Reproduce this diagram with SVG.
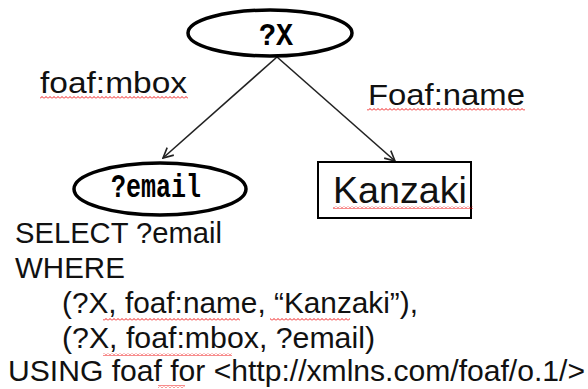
<svg xmlns="http://www.w3.org/2000/svg" width="588" height="389" viewBox="0 0 588 389">
  <defs>
    <style>
      .lbl { font-family: "Liberation Sans", Arial, sans-serif; fill: #111; }
      .mono { font-family: "Liberation Mono", "DejaVu Sans Mono", monospace; font-weight: bold; fill: #000; }
      .ell { fill: #fff; stroke: #000; stroke-width: 3.5; }
      .edge { fill: none; stroke: #222; stroke-width: 1.6; }
    </style>
    <marker id="arrow" viewBox="0 0 12 12" refX="11" refY="6" markerWidth="12" markerHeight="12" markerUnits="userSpaceOnUse" orient="auto">
      <path d="M1,1 L11,6 L1,11" fill="none" stroke="#222" stroke-width="1.6"/>
    </marker>
    <pattern id="squiggle" width="4" height="3" patternUnits="userSpaceOnUse">
      <path d="M0,2.5 L2,0.5 L4,2.5" fill="none" stroke="#e00" stroke-width="0.9"/>
    </pattern>
  </defs>

  <rect width="588" height="389" fill="#fff"/>

  <!-- connectors -->
  <g id="connectors">
    <line class="edge" x1="277" y1="57" x2="163" y2="158" marker-end="url(#arrow)"/>
    <line class="edge" x1="277" y1="57" x2="395" y2="161" marker-end="url(#arrow)"/>
    <text class="lbl" x="40" y="93" font-size="30" textLength="147" lengthAdjust="spacingAndGlyphs">foaf:mbox</text>
    <rect x="40" y="96" width="148" height="3" fill="url(#squiggle)"/>
    <text class="lbl" x="368" y="105" font-size="30" textLength="157" lengthAdjust="spacingAndGlyphs">Foaf:name</text>
    <rect x="367" y="108" width="158" height="3" fill="url(#squiggle)"/>
  </g>

  <!-- subject node -->
  <g id="node-x">
    <ellipse class="ell" cx="270" cy="33" rx="82" ry="23"/>
    <text class="mono" transform="translate(276,45) scale(1,1.2)" font-size="26" text-anchor="middle" textLength="34" lengthAdjust="spacingAndGlyphs">?X</text>
  </g>

  <!-- email node -->
  <g id="node-email">
    <ellipse class="ell" cx="160" cy="189" rx="86" ry="26"/>
    <text class="mono" transform="translate(156,197) scale(1,1.3)" font-size="26" text-anchor="middle" textLength="90" lengthAdjust="spacingAndGlyphs">?email</text>
  </g>

  <!-- literal node -->
  <g id="node-kanzaki">
    <rect x="318" y="162" width="153" height="56" fill="#fff" stroke="#000" stroke-width="2"/>
    <text class="lbl" x="333" y="203" font-size="37" textLength="134" lengthAdjust="spacingAndGlyphs">Kanzaki</text>
    <rect x="333" y="206" width="140" height="3" fill="url(#squiggle)"/>
  </g>

  <!-- query text -->
  <g id="query" class="lbl" font-size="29.5">
    <text x="15" y="243" textLength="207" lengthAdjust="spacingAndGlyphs">SELECT ?email</text>
    <text x="15" y="278">WHERE</text>
    <text x="62" y="313" textLength="356" lengthAdjust="spacingAndGlyphs">(?X, foaf:name, “Kanzaki”),</text>
    <text x="62" y="348" textLength="313" lengthAdjust="spacingAndGlyphs">(?X, foaf:mbox, ?email)</text>
    <text x="8" y="381" textLength="577" lengthAdjust="spacingAndGlyphs">USING foaf for &lt;http://xmlns.com/foaf/o.1/&gt;</text>
    <rect x="103" y="318" width="137" height="3" fill="url(#squiggle)"/>
    <rect x="270" y="318" width="80" height="3" fill="url(#squiggle)"/>
    <rect x="103" y="353" width="129" height="3" fill="url(#squiggle)"/>
    <rect x="158" y="385" width="27" height="3" fill="url(#squiggle)"/>
  </g>
</svg>
